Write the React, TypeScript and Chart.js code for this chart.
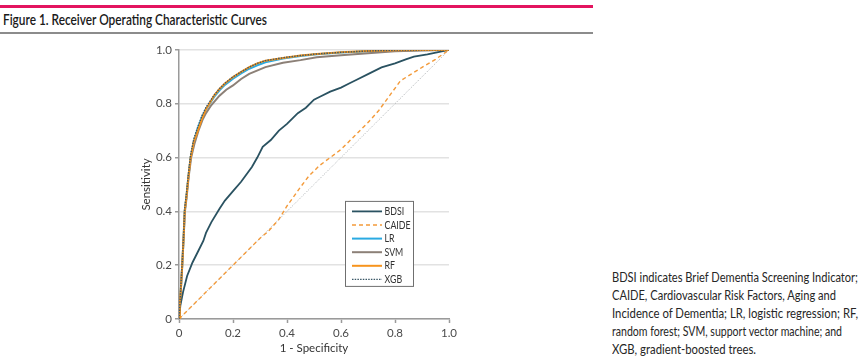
import React, { useEffect, useLayoutEffect, useRef } from "react";
import { Chart, registerables } from "chart.js";

Chart.register(...registerables);

const FONT = 'Lato, "Open Sans", "DejaVu Sans", sans-serif';

const titleText = "Figure 1. Receiver Operating Characteristic Curves";
const captionLines = [
  "BDSI indicates Brief Dementia Screening Indicator;",
  "CAIDE, Cardiovascular Risk Factors, Aging and",
  "Incidence of Dementia; LR, logistic regression; RF,",
  "random forest; SVM, support vector machine; and",
  "XGB, gradient-boosted trees.",
];
const captionWidths = [246, 224, 246, 230, 144];
const xAxisTitle = "1 - Specificity";
const yAxisTitle = "Sensitivity";
const tickValues = [0, 0.2, 0.4, 0.6, 0.8, 1.0];
const tickLabels = ["0", "0.2", "0.4", "0.6", "0.8", "1.0"];

const seriesNames = ["BDSI", "CAIDE", "LR", "SVM", "RF", "XGB"];

const bdsiFpr = [0, 0.005, 0.015, 0.03, 0.05, 0.07, 0.09, 0.1, 0.12, 0.15, 0.17, 0.2, 0.23, 0.27, 0.29, 0.31, 0.34, 0.37, 0.4, 0.44, 0.47, 0.5, 0.52, 0.56, 0.6, 0.63, 0.66, 0.7, 0.75, 0.8, 0.84, 0.87, 0.92, 0.96, 1];
const bdsiTpr = [0, 0.05, 0.1, 0.16, 0.21, 0.25, 0.29, 0.32, 0.36, 0.41, 0.44, 0.475, 0.51, 0.565, 0.6, 0.64, 0.665, 0.7, 0.725, 0.765, 0.785, 0.815, 0.825, 0.845, 0.86, 0.875, 0.89, 0.91, 0.935, 0.95, 0.965, 0.975, 0.983, 0.992, 1];

const caideFpr = [0, 0.1, 0.2, 0.3, 0.33, 0.37, 0.4, 0.45, 0.48, 0.52, 0.56, 0.6, 0.65, 0.7, 0.74, 0.78, 0.82, 0.86, 0.9, 0.95, 1];
const caideTpr = [0, 0.1, 0.2, 0.3, 0.325, 0.37, 0.42, 0.49, 0.53, 0.57, 0.6, 0.63, 0.68, 0.73, 0.775, 0.83, 0.885, 0.91, 0.935, 0.965, 1];

const lrFpr = [0, 0.003, 0.008, 0.012, 0.017, 0.021, 0.027, 0.035, 0.043, 0.055, 0.07, 0.085, 0.1, 0.114, 0.13, 0.15, 0.17, 0.2, 0.23, 0.26, 0.29, 0.32, 0.385, 0.45, 0.51, 0.6, 0.7, 0.8, 0.9, 1];
const lrTpr = [0, 0.05, 0.13, 0.2, 0.3, 0.4, 0.45, 0.53, 0.6, 0.66, 0.71, 0.75, 0.78, 0.8, 0.825, 0.85, 0.87, 0.893, 0.913, 0.93, 0.943, 0.954, 0.968, 0.977, 0.984, 0.99, 0.995, 0.998, 1, 1];

const svmFpr = [0, 0.003, 0.008, 0.012, 0.017, 0.022, 0.028, 0.036, 0.045, 0.057, 0.072, 0.087, 0.1, 0.12, 0.15, 0.175, 0.2, 0.23, 0.26, 0.32, 0.385, 0.45, 0.51, 0.6, 0.7, 0.8, 0.9, 1];
const svmTpr = [0, 0.05, 0.13, 0.2, 0.3, 0.4, 0.45, 0.53, 0.6, 0.65, 0.7, 0.74, 0.765, 0.795, 0.83, 0.852, 0.868, 0.892, 0.911, 0.936, 0.952, 0.962, 0.973, 0.98, 0.988, 0.995, 0.998, 1];

const rfFpr = [0, 0.003, 0.008, 0.012, 0.017, 0.021, 0.027, 0.035, 0.043, 0.055, 0.07, 0.085, 0.1, 0.114, 0.13, 0.15, 0.17, 0.2, 0.23, 0.26, 0.29, 0.32, 0.385, 0.45, 0.51, 0.6, 0.7, 0.8, 0.9, 1];
const rfTpr = [0, 0.05, 0.13, 0.2, 0.3, 0.4, 0.45, 0.53, 0.6, 0.66, 0.7, 0.745, 0.78, 0.803, 0.83, 0.855, 0.875, 0.899, 0.918, 0.936, 0.95, 0.96, 0.97, 0.979, 0.985, 0.991, 0.996, 0.999, 1, 1];

const xgbFpr = [0, 0.003, 0.008, 0.012, 0.017, 0.021, 0.027, 0.035, 0.043, 0.055, 0.07, 0.085, 0.1, 0.114, 0.13, 0.15, 0.17, 0.2, 0.23, 0.26, 0.29, 0.32, 0.385, 0.45, 0.51, 0.6, 0.7, 0.8, 0.9, 1];
const xgbTpr = [0, 0.05, 0.14, 0.21, 0.31, 0.41, 0.46, 0.54, 0.61, 0.67, 0.715, 0.755, 0.787, 0.808, 0.832, 0.856, 0.876, 0.9, 0.918, 0.936, 0.95, 0.96, 0.971, 0.979, 0.985, 0.991, 0.996, 0.999, 1, 1];

const chanceFpr = [0, 1];
const chanceTpr = [0, 1];

const colors = ["#2a5261", "#f39a3a", "#2aaae2", "#8c8077", "#f7941d", "#3b5867"];
const dashes = [[], [4, 3], [], [], [], [1.5, 1.2]];
const widths = [1.8, 1.4, 2, 2, 2, 1.4];
const drawOrder = [3, 2, 5, 4, 1, 0];

const fprs = [bdsiFpr, caideFpr, lrFpr, svmFpr, rfFpr, xgbFpr];
const tprs = [bdsiTpr, caideTpr, lrTpr, svmTpr, rfTpr, xgbTpr];

const pts = (xs: number[], ys: number[]) => xs.map((x, i) => ({ x, y: ys[i] }));

const legendPlugin = {
  id: "insideLegend",
  afterDatasetsDraw(chart: any) {
    const ctx = chart.ctx;
    const ca = chart.chartArea;
    const bx = ca.left + 166;
    const by = ca.top + 151;
    const bw = 68;
    const bh = 85;
    ctx.save();
    ctx.fillStyle = "#ffffff";
    ctx.fillRect(bx, by, bw, bh);
    ctx.strokeStyle = "#6f6f6f";
    ctx.lineWidth = 1;
    ctx.strokeRect(bx + 0.5, by + 0.5, bw, bh);
    ctx.font = `11px ${FONT}`;
    ctx.textBaseline = "middle";
    seriesNames.forEach((name, i) => {
      const y = by + 10.5 + i * 13.6;
      ctx.beginPath();
      ctx.setLineDash(dashes[i]);
      ctx.strokeStyle = colors[i];
      ctx.lineWidth = widths[i];
      ctx.moveTo(bx + 7, y);
      ctx.lineTo(bx + 37, y);
      ctx.stroke();
      ctx.setLineDash([]);
      ctx.fillStyle = "#333333";
      ctx.save();
      ctx.translate(bx + 39.5, y);
      ctx.scale(0.8, 1);
      ctx.fillText(name, 0, 0);
      ctx.restore();
    });
    ctx.restore();
  },
};

function FitText({ text, width, style }: { text: string; width: number; style: any }) {
  const ref = useRef<HTMLSpanElement | null>(null);
  useLayoutEffect(() => {
    const el = ref.current;
    if (!el) return;
    el.style.transform = "none";
    const w = el.getBoundingClientRect().width;
    if (w > 0) el.style.transform = `scaleX(${width / w})`;
  }, [text, width]);
  return (
    <span ref={ref} style={{ display: "inline-block", whiteSpace: "nowrap", transformOrigin: "0 0", ...style }}>
      {text}
    </span>
  );
}

function RocChart() {
  const ref = useRef<HTMLCanvasElement | null>(null);
  useEffect(() => {
    if (!ref.current) return;
    const datasets: any[] = seriesNames.map((name, i) => ({
      label: name,
      data: pts(fprs[i], tprs[i]),
      borderColor: colors[i],
      backgroundColor: colors[i],
      borderWidth: widths[i],
      borderDash: dashes[i],
      showLine: true,
      pointRadius: 0,
      tension: 0,
      fill: false,
      order: drawOrder[i],
    }));
    datasets.push({
      label: "Chance",
      data: pts(chanceFpr, chanceTpr),
      borderColor: "#a9adb0",
      borderWidth: 1,
      borderDash: [1, 1.5],
      showLine: true,
      pointRadius: 0,
      fill: false,
      order: 10,
    });
    const tickFont = { family: FONT, size: 11.5 };
    const chart = new Chart(ref.current, {
      type: "scatter",
      data: { datasets },
      plugins: [legendPlugin],
      options: {
        animation: false,
        responsive: false,
        maintainAspectRatio: false,
        layout: { padding: { left: 0, top: 9, right: 21, bottom: 0 } },
        plugins: { legend: { display: false }, tooltip: { enabled: false } },
        scales: {
          x: {
            type: "linear",
            min: 0,
            max: 1,
            afterFit: (s: any) => { s.height = 36; },
            afterBuildTicks: (s: any) => { s.ticks = tickValues.map((v) => ({ value: v })); },
            ticks: {
              font: tickFont,
              color: "#4a4a4a",
              padding: 3,
              maxRotation: 0,
              callback: (v: any) => tickLabels[tickValues.indexOf(Number(v))] ?? "",
            },
            grid: { drawOnChartArea: false, drawTicks: true, tickLength: 4, tickColor: "#9a9a9a", tickWidth: 1.5 },
            border: { color: "#9a9a9a", width: 1.5 },
            title: { display: true, text: xAxisTitle, font: tickFont, color: "#333333", padding: { top: 2, bottom: 0 } },
          },
          y: {
            type: "linear",
            min: 0,
            max: 1,
            afterFit: (s: any) => { s.width = 49; },
            afterBuildTicks: (s: any) => { s.ticks = tickValues.map((v) => ({ value: v })); },
            ticks: {
              font: tickFont,
              color: "#4a4a4a",
              padding: 3,
              callback: (v: any) => tickLabels[tickValues.indexOf(Number(v))] ?? "",
            },
            grid: { drawOnChartArea: true, color: "#e2e2e2", lineWidth: 1.5, drawTicks: true, tickLength: 4, tickColor: "#9a9a9a", tickWidth: 1.5 },
            border: { color: "#9a9a9a", width: 1.5 },
            title: { display: true, text: yAxisTitle, font: tickFont, color: "#333333", padding: { top: 9, bottom: 0 } },
          },
        },
      } as any,
    });
    return () => chart.destroy();
  }, []);
  return <canvas ref={ref} width={340} height={315} style={{ position: "absolute", left: 130, top: 40, width: 340, height: 315 }} />;
}

export default function App() {
  return (
    <div style={{ position: "absolute", left: 0, top: 0, width: 865, height: 360, background: "#ffffff", fontFamily: FONT, overflow: "hidden" }}>
      <div style={{ position: "absolute", left: 0, top: 5, width: 593, height: 2.5, background: "#e3145f" }} />
      <div style={{ position: "absolute", left: 3, top: 9 }}>
        <FitText text={titleText} width={264} style={{ fontSize: 14.5, lineHeight: "17px", color: "#1a1a1a", fontWeight: 600 }} />
      </div>
      <div style={{ position: "absolute", left: 0, top: 32, width: 593, height: 2, background: "#8c8c8c" }} />
      <RocChart />
      <div style={{ position: "absolute", left: 612, top: 266 }}>
        {captionLines.map((l, i) => (
          <div key={i} style={{ height: 18 }}>
            <FitText text={l} width={captionWidths[i]} style={{ fontSize: 12.5, lineHeight: "18px", color: "#262626" }} />
          </div>
        ))}
      </div>
    </div>
  );
}
